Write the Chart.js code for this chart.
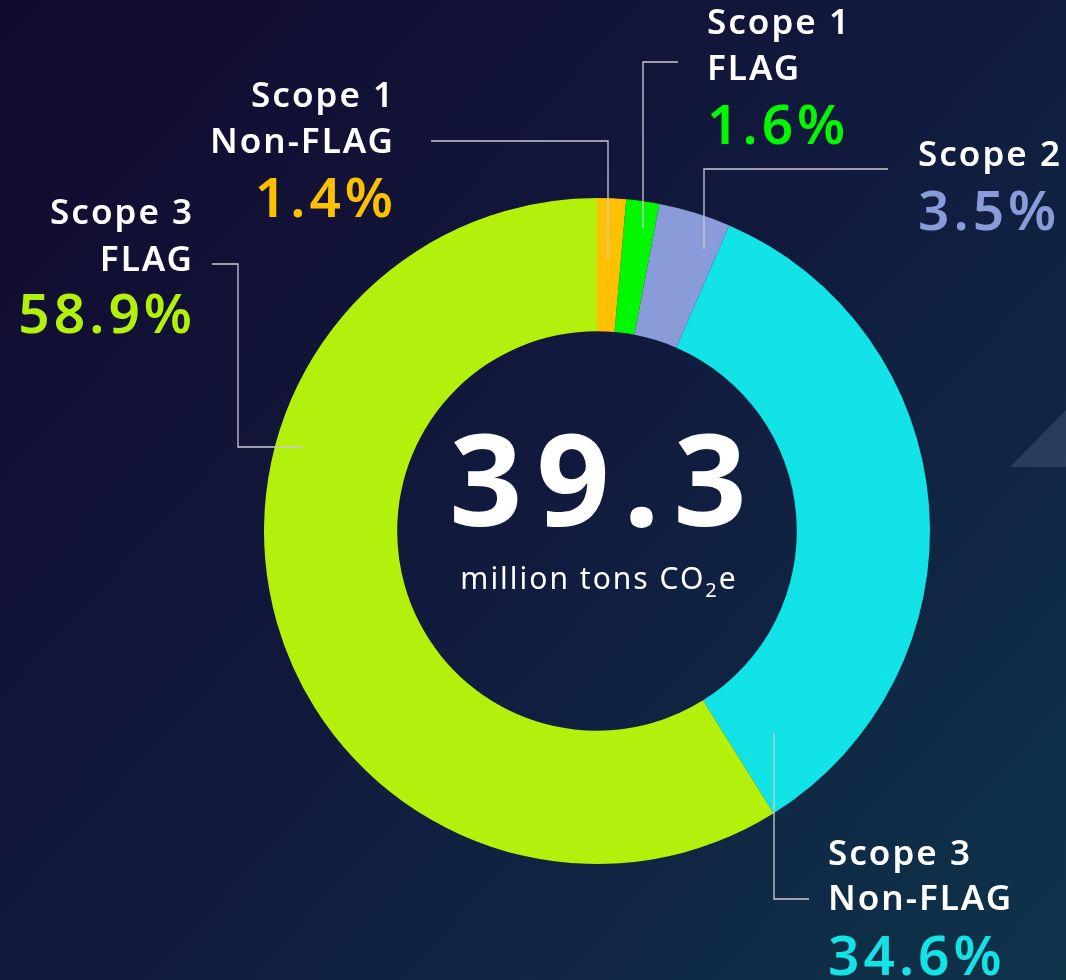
<!DOCTYPE html>
<html>
<head>
<meta charset="utf-8">
<title>Emissions by scope</title>
<script src="https://cdn.jsdelivr.net/npm/chart.js@4.4.1/dist/chart.umd.min.js"></script>
<style>
  html, body { margin: 0; padding: 0; background: #111432; }
  #wrap { width: 1066px; height: 980px; position: relative; }
</style>
</head>
<body>
<div id="wrap"><canvas id="myChart" width="1066" height="980"></canvas></div>
<script>
// data
const categories = ['Scope 1 Non-FLAG', 'Scope 1 FLAG', 'Scope 2', 'Scope 3 Non-FLAG', 'Scope 3 FLAG'];
const shares = [1.4, 1.6, 3.5, 34.6, 58.9];
const labelLines = [['Scope 1', 'Non-FLAG'], ['Scope 1', 'FLAG'], ['Scope 2'], ['Scope 3', 'Non-FLAG'], ['Scope 3', 'FLAG']];
const totalValue = '39.3';
const totalUnit = ['million tons CO', '2', 'e'];

const sliceColors = ['#ffc000', '#02f702', '#8a9bda', '#12e3e6', '#b3f00c'];

// where each callout sits, relative to the donut centre
const callouts = [
    { align: 'right', x: -204, y: [-424, -378, -314], leader: [[-166, -390], [11, -390], [11, -273]] },
    { align: 'left', x: 110, y: [-497, -451, -387], leader: [[81, -469], [46, -469], [46, -303]] },
    { align: 'left', x: 321, y: [-365, -301], leader: [[291, -362], [107, -362], [107, -282]] },
    { align: 'left', x: 231, y: [334, 379, 444], leader: [[177, 202], [177, 368], [212, 368]] },
    { align: 'right', x: -405, y: [-307, -260, -198], leader: [[-385, -267], [-359, -267], [-359, -84], [-294, -84]] }
];

const fondo = {
    id: 'fondo',
    beforeDraw(chart) {
        const c = chart.ctx;
        const w = chart.width, h = chart.height;
        c.save();
        const g = c.createLinearGradient(0, 0, w, h);
        g.addColorStop(0, '#120a2e');
        g.addColorStop(0.5, '#111a3d');
        g.addColorStop(1, '#0e344a');
        c.fillStyle = g;
        c.fillRect(0, 0, w, h);
        // faint shape at the right edge
        c.fillStyle = 'rgba(70,90,125,0.45)';
        c.beginPath();
        c.moveTo(1010, 467);
        c.lineTo(1066, 410);
        c.lineTo(1066, 467);
        c.closePath();
        c.fill();
        c.restore();
    }
};

const etiquetas = {
    id: 'etiquetas',
    afterDraw(chart) {
        const c = chart.ctx;
        const arc = chart.getDatasetMeta(0).data[0];
        const cx = arc.x, cy = arc.y;
        c.save();

        // leader lines
        c.strokeStyle = '#c9cad3';
        c.lineWidth = 1.3;
        callouts.forEach(co => {
            c.beginPath();
            co.leader.forEach((p, i) => {
                if (i == 0) c.moveTo(cx + p[0], cy + p[1]);
                else c.lineTo(cx + p[0], cy + p[1]);
            });
            c.stroke();
        });

        // label text + percentage
        c.textBaseline = 'alphabetic';
        callouts.forEach((co, i) => {
            c.textAlign = co.align;
            const lines = labelLines[i];
            let sp = 2;
            c.fillStyle = '#ffffff';
            c.font = '600 35px "Noto Sans"';
            c.letterSpacing = sp + 'px';
            lines.forEach((t, j) => c.fillText(t, cx + co.x + (co.align == 'right' ? sp : 0), cy + co.y[j]));
            sp = 4;
            c.fillStyle = sliceColors[i];
            c.font = '600 55px "Noto Sans"';
            c.letterSpacing = sp + 'px';
            c.fillText(shares[i].toFixed(1) + '%', cx + co.x + (co.align == 'right' ? sp : 0), cy + co.y[lines.length]);
        });

        // total in the hole
        c.fillStyle = '#ffffff';
        c.textAlign = 'center';
        c.font = 'bold 128px "Noto Sans"';
        c.letterSpacing = '14px';
        c.fillText(totalValue, cx + 8, cy - 5);

        c.letterSpacing = '2px';
        c.font = '30px "Noto Sans"';
        c.textAlign = 'left';
        const w0 = c.measureText(totalUnit[0]).width;
        c.font = '20px "Noto Sans"';
        const w1 = c.measureText(totalUnit[1]).width;
        c.font = '30px "Noto Sans"';
        const w2 = c.measureText(totalUnit[2]).width;
        let x = cx + 2 - (w0 + w1 + w2) / 2;
        c.fillText(totalUnit[0], x, cy + 58);
        x += w0;
        c.font = '20px "Noto Sans"';
        c.fillText(totalUnit[1], x, cy + 66);
        x += w1;
        c.font = '30px "Noto Sans"';
        c.fillText(totalUnit[2], x, cy + 58);
        c.restore();
    }
};

let ctx = document.getElementById('myChart').getContext('2d');

let myChart = new Chart(ctx, {
    type: 'doughnut',
    data: {
        labels: categories,
        datasets: [{
            data: shares,
            backgroundColor: sliceColors,
            borderWidth: 0
        }]
    },
    options: {
        responsive: false,
        animation: false,
        cutout: '60%',
        layout: {
            padding: { left: 264, right: 136, top: 198, bottom: 116 }
        },
        plugins: {
            legend: { display: false },
            tooltip: { enabled: false }
        }
    },
    plugins: [fondo, etiquetas]
});
</script>
</body>
</html>
